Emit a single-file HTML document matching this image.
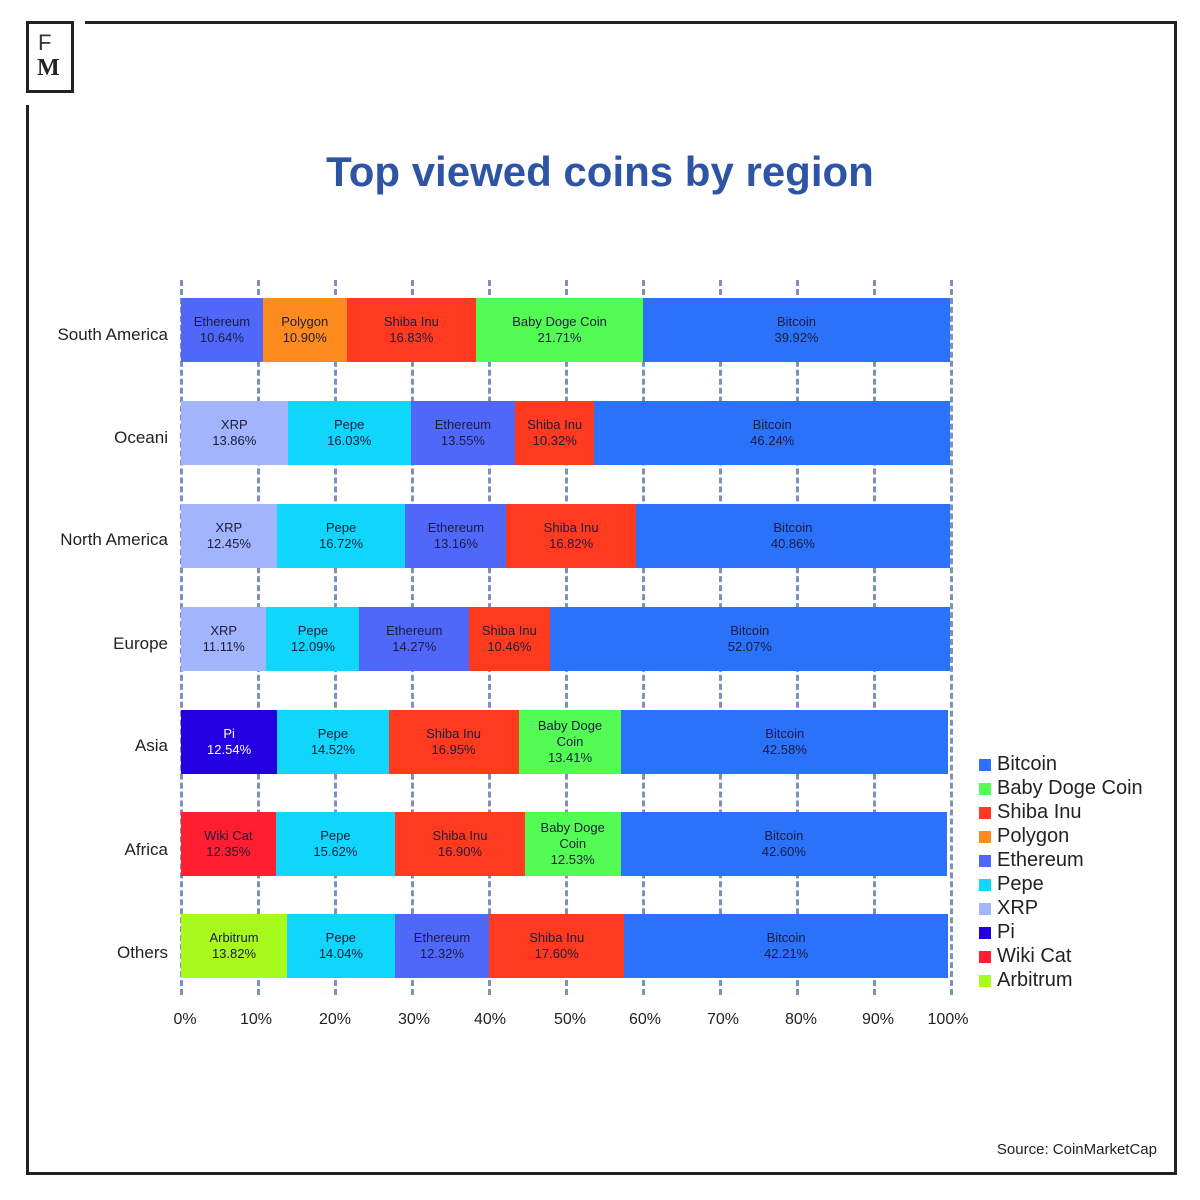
<!DOCTYPE html>
<html><head><meta charset="utf-8"><style>
*{margin:0;padding:0;box-sizing:border-box}
body{width:1200px;height:1200px;background:#fff;position:relative;font-family:"Liberation Sans",sans-serif;overflow:hidden}
.ab{position:absolute}
.ln{position:absolute;background:#222}
.g{position:absolute;top:280px;height:715px;width:0;border-left:3px dashed #7d90c0}
.bar{position:absolute;left:181px;height:64px;display:flex}
.bar div{display:flex;align-items:center;justify-content:center;text-align:center;font-size:13px;line-height:16px;color:#1c1c3c;overflow:hidden}
.rl{position:absolute;right:1032px;font-size:17px;color:#222;text-align:right;white-space:nowrap}
.tk{position:absolute;top:1011px;font-size:16px;color:#222;width:60px;text-align:center}
.lg{position:absolute;left:979px;font-size:20px;color:#222;line-height:24px}
.lg span{display:inline-block;width:12px;height:12px;margin-right:6px;vertical-align:-1px}
</style></head><body>
<div class="ln" style="left:85px;top:21px;width:1092px;height:3px"></div>
<div class="ln" style="left:26px;top:105px;width:3px;height:1070px"></div>
<div class="ln" style="left:1174px;top:21px;width:3px;height:1154px"></div>
<div class="ln" style="left:26px;top:1172px;width:1151px;height:3px"></div>
<div class="ab" style="left:26px;top:21px;width:48px;height:72px;border:3px solid #222"></div>
<div class="ab" style="left:38px;top:30px;font-size:22px;color:#333">F</div>
<div class="ab" style="left:37px;top:55px;font-size:24px;font-weight:bold;font-family:'Liberation Serif',serif;color:#222">M</div>
<div class="ab" style="left:0;width:1200px;top:148px;text-align:center;font-size:42px;font-weight:bold;color:#2e55a5">Top viewed coins by region</div>

<div class="g" style="left:180px"></div><div class="g" style="left:257px"></div><div class="g" style="left:334px"></div><div class="g" style="left:411px"></div><div class="g" style="left:488px"></div><div class="g" style="left:565px"></div><div class="g" style="left:642px"></div><div class="g" style="left:719px"></div><div class="g" style="left:796px"></div><div class="g" style="left:873px"></div><div class="g" style="left:950px"></div>

<div class="bar" style="top:298px;width:769px">
<div style="flex:10.64;background:#5068fa">Ethereum<br>10.64%</div>
<div style="flex:10.90;background:#ff8a1e">Polygon<br>10.90%</div>
<div style="flex:16.83;background:#ff3a1e">Shiba Inu<br>16.83%</div>
<div style="flex:21.71;background:#52fc52">Baby Doge Coin<br>21.71%</div>
<div style="flex:39.92;background:#2a72fa">Bitcoin<br>39.92%</div></div>
<div class="bar" style="top:401px;width:769px">
<div style="flex:13.86;background:#a2b4fc">XRP<br>13.86%</div>
<div style="flex:16.03;background:#0fd6fa">Pepe<br>16.03%</div>
<div style="flex:13.55;background:#5068fa">Ethereum<br>13.55%</div>
<div style="flex:10.32;background:#ff3a1e">Shiba Inu<br>10.32%</div>
<div style="flex:46.24;background:#2a72fa">Bitcoin<br>46.24%</div></div>
<div class="bar" style="top:504px;width:769px">
<div style="flex:12.45;background:#a2b4fc">XRP<br>12.45%</div>
<div style="flex:16.72;background:#0fd6fa">Pepe<br>16.72%</div>
<div style="flex:13.16;background:#5068fa">Ethereum<br>13.16%</div>
<div style="flex:16.82;background:#ff3a1e">Shiba Inu<br>16.82%</div>
<div style="flex:40.86;background:#2a72fa">Bitcoin<br>40.86%</div></div>
<div class="bar" style="top:607px;width:769px">
<div style="flex:11.11;background:#a2b4fc">XRP<br>11.11%</div>
<div style="flex:12.09;background:#0fd6fa">Pepe<br>12.09%</div>
<div style="flex:14.27;background:#5068fa">Ethereum<br>14.27%</div>
<div style="flex:10.46;background:#ff3a1e">Shiba Inu<br>10.46%</div>
<div style="flex:52.07;background:#2a72fa">Bitcoin<br>52.07%</div></div>
<div class="bar" style="top:710px;width:767px">
<div style="flex:12.54;background:#2400e0;color:#fff">Pi<br>12.54%</div>
<div style="flex:14.52;background:#0fd6fa">Pepe<br>14.52%</div>
<div style="flex:16.95;background:#ff3a1e">Shiba Inu<br>16.95%</div>
<div style="flex:13.41;background:#52fc52">Baby Doge<br>Coin<br>13.41%</div>
<div style="flex:42.58;background:#2a72fa">Bitcoin<br>42.58%</div></div>
<div class="bar" style="top:812px;width:766px">
<div style="flex:12.35;background:#ff1f30">Wiki Cat<br>12.35%</div>
<div style="flex:15.62;background:#0fd6fa">Pepe<br>15.62%</div>
<div style="flex:16.90;background:#ff3a1e">Shiba Inu<br>16.90%</div>
<div style="flex:12.53;background:#52fc52">Baby Doge<br>Coin<br>12.53%</div>
<div style="flex:42.60;background:#2a72fa">Bitcoin<br>42.60%</div></div>
<div class="bar" style="top:914px;width:767px">
<div style="flex:13.82;background:#a8fa1e">Arbitrum<br>13.82%</div>
<div style="flex:14.04;background:#0fd6fa">Pepe<br>14.04%</div>
<div style="flex:12.32;background:#5068fa">Ethereum<br>12.32%</div>
<div style="flex:17.60;background:#ff3a1e">Shiba Inu<br>17.60%</div>
<div style="flex:42.21;background:#2a72fa">Bitcoin<br>42.21%</div></div>

<div class="rl" style="top:325px">South America</div>
<div class="rl" style="top:428px">Oceani</div>
<div class="rl" style="top:530px">North America</div>
<div class="rl" style="top:634px">Europe</div>
<div class="rl" style="top:736px">Asia</div>
<div class="rl" style="top:840px">Africa</div>
<div class="rl" style="top:943px">Others</div>

<div class="tk" style="left:155px">0%</div><div class="tk" style="left:226px">10%</div><div class="tk" style="left:305px">20%</div><div class="tk" style="left:384px">30%</div><div class="tk" style="left:460px">40%</div><div class="tk" style="left:540px">50%</div><div class="tk" style="left:615px">60%</div><div class="tk" style="left:693px">70%</div><div class="tk" style="left:771px">80%</div><div class="tk" style="left:848px">90%</div><div class="tk" style="left:918px">100%</div>

<div class="lg" style="top:752px">
<div><span style="background:#2a72fa"></span>Bitcoin</div>
<div><span style="background:#52fc52"></span>Baby Doge Coin</div>
<div><span style="background:#ff3a1e"></span>Shiba Inu</div>
<div><span style="background:#ff8a1e"></span>Polygon</div>
<div><span style="background:#5068fa"></span>Ethereum</div>
<div><span style="background:#0fd6fa"></span>Pepe</div>
<div><span style="background:#a2b4fc"></span>XRP</div>
<div><span style="background:#2400e0"></span>Pi</div>
<div><span style="background:#ff1f30"></span>Wiki Cat</div>
<div><span style="background:#a8fa1e"></span>Arbitrum</div>
</div>
<div class="ab" style="right:43px;top:1141px;font-size:15px;color:#222">Source: CoinMarketCap</div>
</body></html>
